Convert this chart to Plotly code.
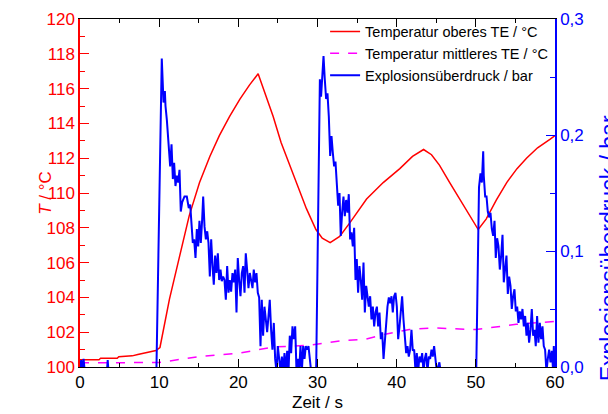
import plotly.graph_objects as go

# Temperatur oberes TE (rot)
ob_t = [0, 2.4, 2.6, 4.7, 4.9, 6.6, 7.3, 8.5, 9.6, 10.1, 11.3, 12.6, 13.8, 15.1, 16.4,
        17.6, 18.9, 20.2, 21.4, 22.5, 23.5, 24.4, 25.4, 26.5, 27.6, 28.6, 29.8, 30.6,
        31.6, 32.8, 34.1, 36.2, 38.3, 40.4, 42.0, 43.4, 44.4, 45.4, 46.7, 48.4, 49.6,
        50.3, 51.3, 52.6, 53.9, 55.2, 56.4, 57.8, 59.4, 60.0]
ob_v = [100.42, 100.42, 100.50, 100.50, 100.59, 100.64, 100.72, 100.84, 100.95, 101.12,
        103.9, 106.4, 108.7, 110.6, 112.1, 113.3, 114.4, 115.4, 116.2, 116.85, 115.6,
        114.4, 112.9, 111.6, 110.2, 109.1, 107.9, 107.4, 107.15, 107.5, 108.3, 109.65,
        110.6, 111.4, 112.1, 112.5, 112.2, 111.6, 110.6, 109.3, 108.4, 107.9, 108.5,
        109.6, 110.6, 111.4, 112.0, 112.6, 113.1, 113.3]

# Temperatur mittleres TE (magenta, gestrichelt)
mi_t = [0, 10.0, 15.1, 20.2, 24.4, 29.0, 32.8, 36.1, 38.2, 41.6, 44.5, 50.0, 55.1, 60.0]
mi_v = [100.24, 100.26, 100.6, 100.8, 101.15, 101.25, 101.5, 101.6, 101.85, 102.15,
        102.25, 102.15, 102.45, 102.62]

# Explosionsueberdruck (blau, rechte Achse)
p_t = [0.0, 0.15, 0.3, 0.45, 0.6, 3.4, 3.5, 3.6, 9.55, 9.65,
       10.33, 10.55, 10.72, 10.80, 10.97, 11.22, 11.39, 11.56, 11.73, 11.89, 12.06, 12.23,
       12.40, 12.57, 12.73, 12.90, 13.20, 13.49, 13.74, 13.92, 14.08, 14.25, 14.42, 14.59,
       14.76, 14.93, 15.09, 15.26, 15.43, 15.56, 15.73, 15.90, 16.07, 16.23, 16.40, 16.57,
       16.74, 16.90, 17.07, 17.24, 17.41, 17.58, 17.75, 17.91, 18.08, 18.25, 18.42, 18.59,
       18.76, 18.92, 19.09, 19.26, 19.43, 19.60, 19.77, 19.93, 20.10, 20.27, 20.44, 20.61,
       20.78, 20.94, 21.11, 21.28, 21.45, 21.62, 21.79, 21.95, 22.12, 22.29, 22.46, 22.63,
       22.80, 22.96, 23.13, 23.30, 23.47, 23.64, 23.81, 23.97, 24.14, 24.31, 24.48, 24.65,
       24.82, 24.99, 25.16, 25.33, 25.50, 25.66, 25.83, 26.00, 26.17, 26.34, 26.50, 26.67,
       26.84, 27.00, 27.18, 27.35, 27.52, 27.68, 27.85, 28.02, 28.19, 28.36, 28.52, 28.69,
       28.86, 29.03, 29.20, 29.83,
       30.30, 30.45, 30.60, 30.76, 30.92, 31.09, 31.26, 31.43, 31.60, 31.77, 31.93, 32.10,
       32.27, 32.44, 32.61, 32.78, 32.94, 33.11, 33.28, 33.45, 33.62, 33.79, 33.95, 34.12,
       34.29, 34.46, 34.63, 34.80, 34.96, 35.13, 35.30, 35.47, 35.64, 35.81, 35.98, 36.15,
       36.31, 36.48, 36.65, 36.82, 36.99, 37.16, 37.33, 37.50, 37.66, 37.83, 38.00, 38.17,
       38.34, 38.50, 38.67, 38.84, 39.01, 39.18, 39.35, 39.51, 39.68, 39.85, 40.02, 40.19,
       40.36, 40.52, 40.69, 40.86, 41.03, 41.20, 41.37, 41.53, 41.70, 41.87, 42.04, 42.21,
       42.38, 42.54, 42.71, 42.88, 43.05, 43.22, 43.39, 43.55, 43.72, 43.89, 44.06, 44.23,
       44.40, 44.56, 44.73, 44.90, 45.07, 45.40, 45.55, 50.05,
       50.40, 50.59, 50.76, 50.93, 51.00, 51.18, 51.35, 51.51, 51.68, 51.85, 52.02, 52.19,
       52.36, 52.52, 52.69, 52.86, 53.03, 53.20, 53.37, 53.53, 53.70, 53.87, 54.04, 54.21,
       54.38, 54.54, 54.71, 54.88, 55.05, 55.22, 55.39, 55.55, 55.72, 55.89, 56.06, 56.23,
       56.40, 56.56, 56.73, 56.90, 57.07, 57.24, 57.41, 57.57, 57.74, 57.91, 58.08, 58.25,
       58.42, 58.58, 58.75, 58.92, 59.09, 59.26, 59.43, 59.60, 59.77, 59.85, 60.00]
p_v = [-0.004, 0.006, -0.004, 0.007, -0.004, -0.004, 0.006, -0.004, -0.004, -0.004,
       0.266, 0.228, 0.238, 0.225, 0.213, 0.190, 0.173, 0.192, 0.162, 0.176, 0.156, 0.165,
       0.159, 0.170, 0.134, 0.142, 0.147, 0.147, 0.137, 0.140, 0.121, 0.107, 0.110, 0.094,
       0.119, 0.104, 0.126, 0.107, 0.127, 0.147, 0.121, 0.110, 0.117, 0.107, 0.078, 0.110,
       0.087, 0.071, 0.096, 0.081, 0.098, 0.075, 0.084, 0.074, 0.078, 0.075, 0.058, 0.087,
       0.064, 0.075, 0.065, 0.081, 0.073, 0.084, 0.047, 0.094, 0.075, 0.061, 0.081, 0.087,
       0.064, 0.098, 0.084, 0.068, 0.081, 0.075, 0.068, 0.084, 0.073, 0.081, 0.064, 0.060,
       0.018, 0.058, 0.027, 0.052, 0.038, 0.030, 0.044, 0.058, 0.032, 0.015, 0.038, 0.007,
       -0.004, 0.018, 0.007, -0.004, 0.009, -0.004, 0.012, -0.004, 0.014, -0.004, 0.027, 0.012,
       0.035, 0.024, 0.035, -0.004, 0.007, -0.004, 0.018, -0.004, 0.018, 0.007, 0.018, 0.015,
       0.018, 0.007, -0.004, -0.004,
       0.248, 0.233, 0.256, 0.268, 0.248, 0.231, 0.236, 0.216, 0.182, 0.199, 0.185, 0.173,
       0.177, 0.162, 0.139, 0.150, 0.113, 0.133, 0.147, 0.130, 0.144, 0.133, 0.149, 0.110,
       0.116, 0.104, 0.120, 0.075, 0.093, 0.064, 0.087, 0.075, 0.058, 0.090, 0.047, 0.070,
       0.058, 0.052, 0.061, 0.041, 0.052, 0.035, 0.047, 0.052, 0.035, 0.047, 0.024, 0.030,
       0.007, 0.024, 0.038, 0.052, 0.060, 0.055, 0.061, 0.047, 0.061, 0.064, 0.052, 0.024,
       0.035, 0.047, 0.061, 0.041, 0.024, 0.012, 0.018, 0.009, 0.015, 0.032, 0.014, 0.015,
       -0.004, 0.012, -0.004, 0.009, 0.004, 0.012, -0.004, 0.007, 0.012, -0.004, 0.009, 0.007,
       0.015, 0.009, 0.018, 0.007, -0.004, 0.004, -0.004, -0.004,
       0.155, 0.167, 0.159, 0.186, 0.165, 0.147, 0.147, 0.134, 0.129, 0.133, 0.119, 0.113,
       0.126, 0.094, 0.111, 0.104, 0.084, 0.096, 0.114, 0.073, 0.084, 0.096, 0.063, 0.078,
       0.070, 0.050, 0.061, 0.067, 0.048, 0.052, 0.038, 0.048, 0.041, 0.050, 0.035, 0.044,
       0.027, 0.038, 0.021, 0.032, 0.050, 0.027, 0.032, 0.018, 0.044, 0.021, 0.038, 0.024,
       0.035, 0.018, 0.015, -0.004, 0.007, 0.015, 0.004, 0.014, -0.004, 0.018, -0.004]

RED = '#FF0000'
MAG = '#FF00FF'
BLUE = '#0000FF'

fig = go.Figure()
fig.add_trace(go.Scatter(x=ob_t, y=ob_v, mode='lines', name='Temperatur oberes TE / °C',
                         line=dict(color=RED, width=1.5)))
fig.add_trace(go.Scatter(x=mi_t, y=mi_v, mode='lines', name='Temperatur mittleres TE / °C',
                         line=dict(color=MAG, width=1.5, dash='dash')))
fig.add_trace(go.Scatter(x=p_t, y=p_v, mode='lines', name='Explosionsüberdruck / bar',
                         line=dict(color=BLUE, width=2), yaxis='y2'))

fig.update_layout(
    width=608, height=414,
    margin=dict(l=80, r=53, t=19, b=47),
    plot_bgcolor='white', paper_bgcolor='white',
    font=dict(family='Liberation Sans, Arial, sans-serif', size=17, color='black'),
    separators=',.',
    legend=dict(x=0.516, y=1.01, xanchor='left', yanchor='top',
                bgcolor='rgba(0,0,0,0)', font=dict(size=14.5), tracegroupgap=0),
    xaxis=dict(range=[0, 60], dtick=10, ticks='inside', ticklen=8, tickcolor='black',
               showline=True, linecolor='black', linewidth=1, mirror='ticks',
               showgrid=False, zeroline=False, automargin=False,
               minor=dict(dtick=5, ticks='inside', ticklen=4, tickcolor='black')),
    yaxis=dict(range=[100, 120], dtick=2, ticks='inside', ticklen=9, tickcolor=RED,
               showline=True, linecolor=RED, linewidth=1.5, showgrid=False, zeroline=False,
               tickfont=dict(color=RED), automargin=False,
               minor=dict(dtick=1, ticks='inside', ticklen=5, tickcolor=RED)),
    yaxis2=dict(range=[0, 0.3], dtick=0.1, tickformat='.1f', overlaying='y', side='right',
                ticks='inside', ticklen=9, tickcolor=BLUE, showline=True, linecolor=BLUE,
                linewidth=1.5, showgrid=False, zeroline=False, tickfont=dict(color=BLUE),
                automargin=False,
                minor=dict(dtick=0.05, ticks='inside', ticklen=5, tickcolor=BLUE)),
)

# Achsentitel
fig.add_annotation(text='Zeit / s', xref='paper', yref='paper', x=0.5, y=-0.103,
                   xanchor='center', yanchor='middle', showarrow=False)
fig.add_annotation(text='<i>T</i> / °C', xref='paper', yref='paper', x=-0.074, y=0.5,
                   xanchor='center', yanchor='middle', textangle=-90, showarrow=False,
                   font=dict(color=RED))
fig.add_annotation(text='Explosionsüberdruck / bar', xref='paper', yref='paper',
                   x=1.113, y=0.34, xanchor='center', yanchor='middle', textangle=-90,
                   showarrow=False, font=dict(color=BLUE, size=23))

fig.write_html('out.html', config={'displayModeBar': False},
               post_script="document.body.style.margin='0';")
